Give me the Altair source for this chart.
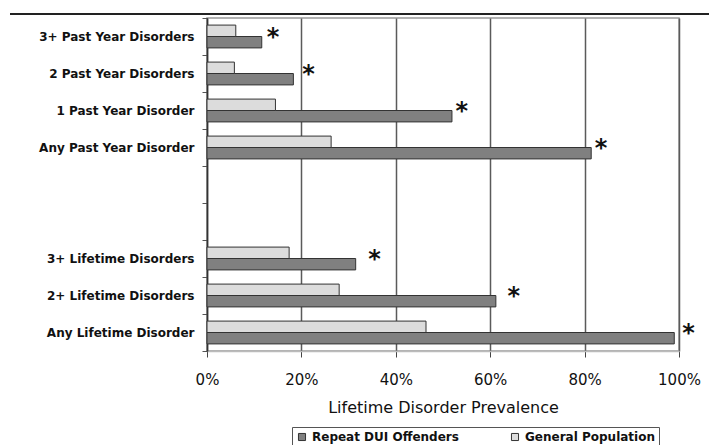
import altair as alt
import pandas as pd

categories = ["3+ Past Year Disorders", "2 Past Year Disorders", "1 Past Year Disorder",
              "Any Past Year Disorder", " ", "  ",
              "3+ Lifetime Disorders", "2+ Lifetime Disorders", "Any Lifetime Disorder"]
bar_categories = ["3+ Past Year Disorders", "2 Past Year Disorders", "1 Past Year Disorder",
                  "Any Past Year Disorder",
                  "3+ Lifetime Disorders", "2+ Lifetime Disorders", "Any Lifetime Disorder"]
dui_values = [11.6, 18.3, 51.9, 81.4, 31.5, 61.2, 99.0]
gen_values = [6.1, 5.8, 14.5, 26.3, 17.4, 28.0, 46.4]
star_pos = [14.0, 21.5, 54.0, 83.5, 35.5, 65.0, 102.0]
series = ["Repeat DUI Offenders", "General Population"]
x_ticks = [0, 20, 40, 60, 80, 100]

rows = []
for c, d, g in zip(bar_categories, dui_values, gen_values):
    rows.append({"cat": c, "series": series[0], "val": d})
    rows.append({"cat": c, "series": series[1], "val": g})
df = pd.DataFrame(rows)
stars = pd.DataFrame({"cat": bar_categories, "pos": star_pos, "s": ["*"] * len(bar_categories)})

FONT = "DejaVu Sans"

y_enc = alt.Y("cat:N", sort=categories, scale=alt.Scale(domain=categories, paddingInner=0, paddingOuter=0),
              axis=alt.Axis(title=None, labelFont=FONT, labelFontWeight="bold", labelFontSize=12,
                            labelColor="#111", domainColor="#333", domainWidth=1.5, tickColor="#555",
                            tickBand="extent", tickSize=5, labelPadding=8, grid=False))

bars = alt.Chart(df).mark_bar(stroke="#333", strokeWidth=1).encode(
    x=alt.X("val:Q", scale=alt.Scale(domain=[0, 100], nice=False),
            axis=alt.Axis(values=x_ticks, labelExpr="datum.value + '%'", title="Lifetime Disorder Prevalence",
                          labelFont=FONT, labelFontSize=15, labelColor="#111", labelPadding=15,
                          labelFlush=False,
                          titleFont=FONT, titleFontSize=16, titleFontWeight="normal", titleColor="#111",
                          titlePadding=12, grid=True, gridColor="#5a5a5a", gridWidth=1.5,
                          tickColor="#444", tickSize=6, domainColor="#bbb", domainWidth=1.5)),
    y=y_enc,
    yOffset=alt.YOffset("series:N", sort=[series[1], series[0]],
                        scale=alt.Scale(domain=[series[1], series[0]], paddingOuter=0.62, paddingInner=0)),
    color=alt.Color("series:N", scale=alt.Scale(domain=series, range=["#808080", "#dcdcdc"]),
                    legend=alt.Legend(title=None, orient="none", direction="horizontal",
                                      legendX=85, legendY=409, labelFont=FONT, labelFontWeight="bold",
                                      labelFontSize=12, labelColor="#111", symbolType="square",
                                      symbolSize=50, symbolStrokeColor="#333", symbolStrokeWidth=1,
                                      strokeColor="#555", padding=4, columnPadding=50, labelLimit=300)),
)

star_text = alt.Chart(stars).mark_text(font=FONT, fontSize=24, fontWeight="bold", baseline="middle",
                                       dy=1, color="#111").encode(
    x=alt.X("pos:Q"),
    y=alt.Y("cat:N", sort=categories, bandPosition=0.5),
    text="s:N",
)

top_line = alt.Chart(pd.DataFrame({"a": [0]})).mark_rule(color="#222", strokeWidth=2).encode(
    x=alt.value(-197), x2=alt.value(520), y=alt.value(-4)
)

chart = alt.layer(bars, star_text, top_line).properties(
    width=472, height=333,
    padding={"left": 199, "top": 10, "right": 30, "bottom": 100},
    autosize=alt.AutoSizeParams(type="none"),
).configure_view(stroke="#999", strokeWidth=1.5)

chart.save("out.html", embed_options={"renderer": "svg", "actions": False})
